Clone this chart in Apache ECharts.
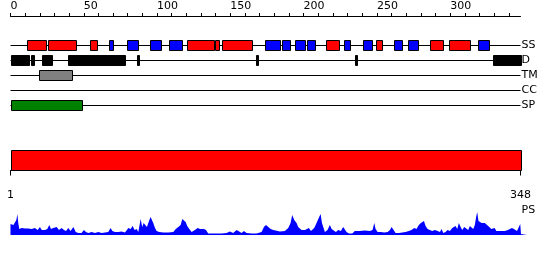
<!DOCTYPE html>
<html><head><meta charset="utf-8">
<script src="https://cdn.jsdelivr.net/npm/echarts@6/dist/echarts.min.js"></script>
<style>html,body{margin:0;padding:0;background:#fff}#c{width:550px;height:260px}</style>
</head><body><div id="c"></div>
<script>
const seqLength = 348;
const trackNames = ['SS', 'D', 'TM', 'CC', 'SP'];
const rulerTicks = [0,10,20,30,40,50,60,70,80,90,100,110,120,130,140,150,160,170,180,190,200,210,220,230,240,250,260,270,280,290,300,310,320,330,340];
const rulerLabels = [0,50,100,150,200,250,300];
const seqEndLabels = [1, 348];

// secondary structure: helices (red), strands (blue)
const helices = [[11.5,24.4],[25.8,44.5],[54.4,58.8],[120.6,138.6],[139.7,142],[144.5,164.5],[215.2,224.3],[249.5,253.6],[286.4,295.2],[299.3,313.6]];
const strands = [[67.2,69.7],[79.7,86.8],[95.4,102.5],[108.3,116.8],[173.6,183.8],[185,190.4],[194,200.9],[202.5,207.7],[227.5,231.8],[240.5,246.4],[261.4,267.3],[271.1,277.8],[319.1,326.4]];
const disorder = [[0,12.6],[14,15.8],[21.7,28.3],[39.4,78.1],[86.5,87.4],[167.7,168.6],[235,236.5],[329.3,348]];
const transmembrane = [[19.7,41.7]];
const coiledCoil = [];
const signalPeptide = [[0,48.6]];
const sequenceSpan = [[1, 348]];

// PS profile [residue, value]
const psProfile = [
[0,11],[1,12],[2,10],[3,9],[4,15],[4.7,21],[5.3,12],[6,6],[7.6,7],[9.9,6.5],[12.2,6.5],[14.4,6],[15.6,6],[16.7,7],[17.4,8],[18.5,5],[20.1,8],[21.3,5],[23.5,5],[25.1,6],
[26.5,10],[27.6,6],[29.2,7],[30.4,5],[31.5,8],[33.1,5],[34.9,7],[36.5,5],[37.9,4],[39.4,7],[41,4],[42.9,8],[44.5,3],[46.3,2],[48.5,2],[50.1,5],[51.5,3],[53.1,2],[55.4,3],[57.6,2],
[59.9,3],[62.2,2],[64.5,2.5],[66.7,3],[68.3,7],[69.5,4],[71.3,3],[73.6,3],[75.8,3.5],[78.1,2.5],[80.4,7],[82,6],[83.3,9],[84.7,5],[86.1,6],[87.2,3],[88.8,16],[89.9,8],[90.8,12],[91.9,14],
[93.1,8],[94.5,14],[95.6,18],[96.5,20],[97.4,12],[98.6,7],[99.7,4],[101.5,3],[104.3,2.5],[107.7,2.5],[111.1,3],[112.7,6],[114.5,8],[116.1,10],[117.2,16],[118.3,16],[119.5,13],[120.6,9],[122,6],[123.6,3],
[125.8,5],[127.7,7],[129.3,6],[130.4,4],[132,6],[133.4,5],[134.9,1.5],[137.2,1.5],[140.6,1.5],[144,1.5],[147.4,2],[149.7,3.5],[151.9,2],[154.3,5],[155.4,3],[157.7,2],[159.2,4],[161.1,2],[164.5,1.5],[167.9,1.5],
[171.3,3],[172.9,8],[174.3,10],[175.9,8],[177.5,6],[179.3,5],[180.4,3],[183.8,3.5],[187.2,4],[189.5,7],[191.1,12],[192.2,20],[193.6,15],[195.2,12],[196.3,8],[197.5,7],[198.6,5],[199.6,7],[200.9,5],[202,6],
[203.6,7],[205,4],[206,2],[207.2,7],[208.2,10],[209.5,12],[210.6,18],[211.6,21],[212.5,12],[213.4,8],[214.5,3],[216.3,5],[217.9,10],[219.1,6],[220.2,5],[222,3],[223.6,5],[225.4,4],[227,8],[228.1,6],
[229.3,3],[230.9,1.5],[233.2,1.5],[234.9,4],[238.4,4],[241.8,4.5],[245.2,4],[247,5],[248.2,12],[249.1,6],[250.5,3],[252.7,3],[255,2.5],[257.3,3],[258.9,5],[260,8],[261.4,5],[262.7,2],[265,2],[267.3,2.5],
[269.5,3],[271.8,4],[273.6,5],[275.5,7],[277,6],[278.6,10],[280,12],[281.2,11],[282.1,14],[283.2,9],[284.6,6],[286.1,5],[287.7,4],[289.6,5],[291.4,4],[293,3],[294.1,6],[295.3,2],[296.8,3],[298.2,5],
[299.8,4],[301.4,7],[302.5,5],[303.7,9],[304.8,6],[305.9,12],[307.1,8],[308.2,5],[309.6,8],[310.7,6],[312.3,5],[313.4,9],[314.6,7],[315.7,6],[316.8,10],[317.7,18],[318.4,23],[319.3,14],[320.2,15],[321.4,12],
[322.5,10],[323.6,12],[324.7,13],[325.9,9],[327,9],[328.1,6],[329.2,5],[330.3,7],[331.5,4],[333.1,4],[334.9,4],[337.2,4],[339.4,5],[340.6,4],[342.1,7],[343.5,6],[344.4,8],[345.6,4],[346.9,6],[347.8,11],
[348.3,1],[352.4,1]
];

const FONT = 'DejaVu Sans';

function toItems(list, track) { return list.map(s => [s[0], s[1], track]); }

function renderBox(params, api) {
  const a = api.coord([api.value(0), api.value(2)]);
  const b = api.coord([api.value(1), api.value(2)]);
  const x0 = Math.round(a[0]) + 0.5;
  const x1 = Math.max(Math.round(b[0]) + 0.5, x0 + 1);
  const yc = a[1];
  return {
    type: 'rect',
    shape: { x: x0, y: yc - 5, width: x1 - x0, height: 10 },
    style: { fill: api.visual('color'), stroke: '#000', lineWidth: 1 }
  };
}
function renderTrackLine(params, api) {
  const a = api.coord([api.value(0), api.value(2)]);
  const b = api.coord([api.value(1), api.value(2)]);
  return {
    type: 'line',
    shape: { x1: a[0], y1: a[1], x2: b[0], y2: b[1] },
    style: { stroke: '#000', lineWidth: 1 }
  };
}
function renderSpan(params, api) {
  const a = api.coord([api.value(0), 1]);
  const b = api.coord([api.value(1), 0]);
  const x0 = Math.round(a[0]) + 0.5, x1 = Math.round(b[0]) + 0.5;
  return {
    type: 'rect',
    shape: { x: x0, y: a[1], width: x1 - x0, height: b[1] - a[1] },
    style: { fill: api.visual('color'), stroke: '#000', lineWidth: 1 }
  };
}

const chart = echarts.init(document.getElementById('c'), null, { renderer: 'canvas' });
const boxSeries = (name, list, track, color) => ({
  name, type: 'custom', xAxisIndex: 0, yAxisIndex: 0, renderItem: renderBox,
  itemStyle: { color }, encode: { x: [0, 1], y: 2 }, data: toItems(list, track), z: 3, silent: true
});

chart.setOption({
  animation: false,
  backgroundColor: '#fff',
  textStyle: { fontFamily: FONT },
  grid: [
    { left: 10.5, width: 510, top: 38, height: 75 },
    { left: 10.5, width: 510, top: 150.5, height: 20 },
    { left: 10.5, width: 516.5, top: 210, height: 25 }
  ],
  xAxis: [
    { gridIndex: 0, type: 'value', min: 0, max: seqLength, position: 'top', offset: 22,
      axisLine: { show: true, lineStyle: { color: '#000', width: 1 } },
      axisTick: { show: true, customValues: rulerTicks, length: 3, lineStyle: { color: '#000' } },
      axisLabel: { show: true, customValues: rulerLabels, align: 'left', margin: 4, color: '#000', fontSize: 11, fontFamily: FONT },
      splitLine: { show: false } },
    { gridIndex: 1, type: 'value', min: seqEndLabels[0], max: seqEndLabels[1], position: 'bottom', offset: 10,
      axisLine: { show: true, lineStyle: { color: '#000', width: 1 } },
      axisTick: { show: true, customValues: seqEndLabels, length: 5, lineStyle: { color: '#000' } },
      axisLabel: { show: true, customValues: seqEndLabels, margin: 9, color: '#000', fontSize: 11, fontFamily: FONT },
      splitLine: { show: false } },
    { gridIndex: 2, type: 'value', min: 0, max: 352.4, show: false, splitLine: { show: false } }
  ],
  yAxis: [
    { gridIndex: 0, type: 'category', data: trackNames, inverse: true, position: 'right',
      axisLine: { show: false }, axisTick: { show: false }, splitLine: { show: false },
      axisLabel: { margin: 1, color: '#000', fontSize: 11, fontFamily: FONT } },
    { gridIndex: 1, type: 'value', min: 0, max: 1, show: false, splitLine: { show: false } },
    { gridIndex: 2, type: 'value', min: 0, max: 25, show: false, splitLine: { show: false } }
  ],
  graphic: [
    { type: 'text', left: 521.5, top: 204.5, style: { text: 'PS', fill: '#000', font: '11px "DejaVu Sans"' } }
  ],
  series: [
    { name: 'tracks', type: 'custom', xAxisIndex: 0, yAxisIndex: 0, renderItem: renderTrackLine,
      encode: { x: [0, 1], y: 2 }, data: trackNames.map((n, i) => [0, seqLength, i]), z: 1, silent: true },
    boxSeries('helix', helices, 0, '#ff0000'),
    boxSeries('strand', strands, 0, '#0000ff'),
    boxSeries('disorder', disorder, 1, '#000000'),
    boxSeries('tm', transmembrane, 2, '#808080'),
    boxSeries('cc', coiledCoil, 3, '#ffff00'),
    boxSeries('sp', signalPeptide, 4, '#008000'),
    { name: 'span', type: 'custom', xAxisIndex: 1, yAxisIndex: 1, renderItem: renderSpan,
      itemStyle: { color: '#ff0000' }, encode: { x: [0, 1] }, data: sequenceSpan, silent: true },
    { name: 'PS', type: 'line', xAxisIndex: 2, yAxisIndex: 2, data: psProfile, showSymbol: false,
      lineStyle: { width: 0, color: '#0000ff' }, itemStyle: { color: '#0000ff' },
      areaStyle: { color: '#0000ff', opacity: 1 }, silent: true }
  ]
});
</script></body></html>
